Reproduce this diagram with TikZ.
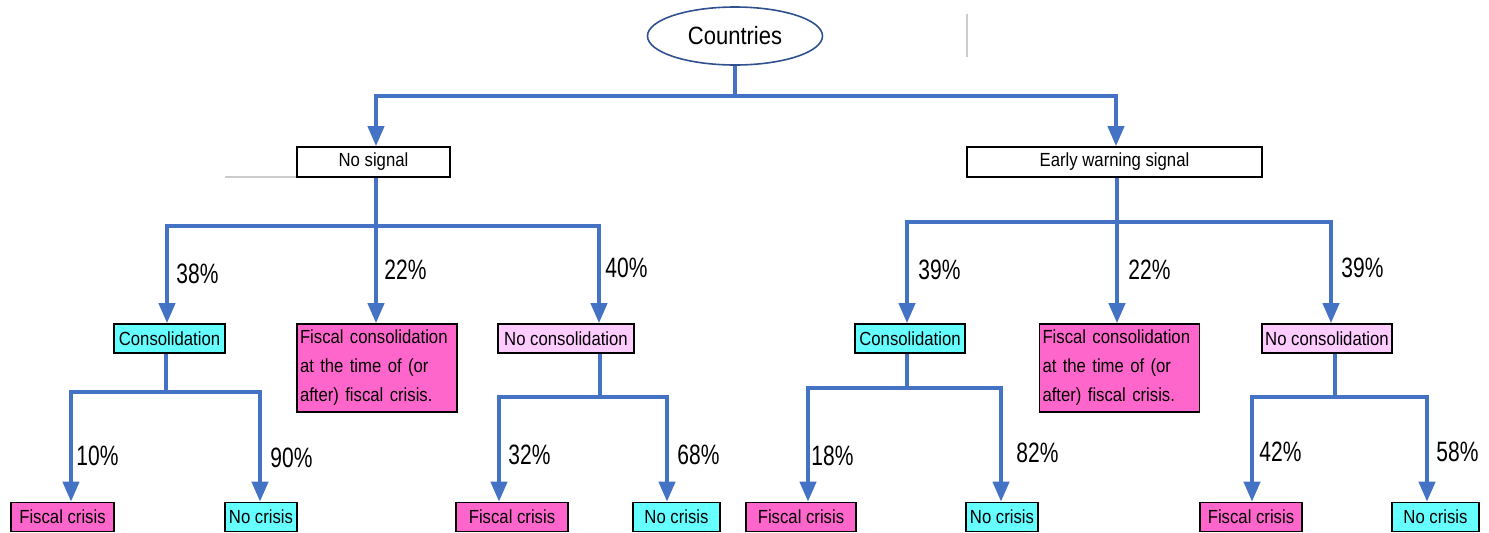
\documentclass[tikz,border=0pt]{standalone}
\usepackage{fontspec}
\setmainfont{Liberation Sans}[FakeStretch=0.88]
\newfontfamily\pctfont{Liberation Sans}[FakeStretch=0.75]
\usetikzlibrary{arrows.meta, shapes.geometric}

\definecolor{lineblue}{HTML}{4472C4}
\definecolor{ringblue}{HTML}{2F528F}
\definecolor{crisiscyan}{HTML}{66FFFF}
\definecolor{crisispink}{HTML}{FF66CC}
\definecolor{nocons}{HTML}{FFCCFF}

\begin{document}
\begin{tikzpicture}[
        x = 0.5pt, y = -0.5pt,
        > = {Triangle[length=10pt, width=8pt]},
        box/.style = {%
            draw, line width = 0.8pt, inner sep = 0pt,
            minimum height = 14.5pt,
            font = \fontsize{9.5}{11}\selectfont
        },
        longbox/.style = {%
            box, fill = crisispink, align = left,
            text width = 77pt, inner xsep = 1.5pt,
            minimum height = 44pt,
            font = \fontsize{9.5}{14.5}\selectfont
        },
        link/.style = {draw = lineblue, line width = 2pt},
        bar/.style = {link, line cap = rect},
        pct/.style = {anchor = west, inner sep = 0pt,
            font = \pctfont\fontsize{14}{16}\selectfont}
    ]

        \useasboundingbox (0, 0) rectangle (1489, 532);

        % Faint stray lines.
        \draw[black!20, line width = 1pt] (967, 14) to (967, 57);
        \draw[black!20, line width = 1pt] (225, 177) to (297, 177);

        % Root and first split.
        \node[ellipse, draw = ringblue, line width = 0.8pt,
              minimum width = 87.5pt, minimum height = 29pt,
              font = \fontsize{12.5}{14}\selectfont] (countries) at (735, 36) {Countries};
        \node[box, minimum width = 76.5pt, minimum height = 15pt] (nosig) at (373.5, 162) {No signal};
        \node[box, minimum width = 147.5pt, minimum height = 15pt] (ews) at (1114.5, 162) {Early warning signal};

        % Second level.
        \node[box, fill = crisiscyan, minimum width = 55.5pt] (consL) at (169.5, 338.5) {Consolidation};
        \node[longbox] (fiscL) at (377, 368) {Fiscal consolidation\\at the time of (or\\after) fiscal crisis.};
        \node[box, fill = nocons, minimum width = 68pt] (nocL) at (566, 338.5) {No consolidation};
        \node[box, fill = crisiscyan, minimum width = 55pt] (consR) at (910, 338.5) {Consolidation};
        \node[longbox] (fiscR) at (1119.5, 368) {Fiscal consolidation\\at the time of (or\\after) fiscal crisis.};
        \node[box, fill = nocons, minimum width = 65pt] (nocR) at (1327, 338.5) {No consolidation};

        % Outcomes.
        \begin{scope}[every node/.append style = {minimum height = 15pt}]
            \node[box, fill = crisispink, minimum width = 51.5pt] (fcLL) at (62.5, 517) {Fiscal crisis};
            \node[box, fill = crisiscyan, minimum width = 36pt] (ncLL) at (261, 517) {No crisis};
            \node[box, fill = crisispink, minimum width = 56pt] (fcLR) at (512, 517) {Fiscal crisis};
            \node[box, fill = crisiscyan, minimum width = 43.5pt] (ncLR) at (676.5, 517) {No crisis};
            \node[box, fill = crisispink, minimum width = 55pt] (fcRL) at (801, 517) {Fiscal crisis};
            \node[box, fill = crisiscyan, minimum width = 36pt] (ncRL) at (1002, 517) {No crisis};
            \node[box, fill = crisispink, minimum width = 51pt] (fcRR) at (1251, 517) {Fiscal crisis};
            \node[box, fill = crisiscyan, minimum width = 43.5pt] (ncRR) at (1435.5, 517) {No crisis};
        \end{scope}

        % Branch points.
        \coordinate (t0) at (735, 96);
        \coordinate (tL) at (376, 96);
        \coordinate (tR) at (1116, 96);
        \coordinate (bL1) at (167, 226);
        \coordinate (bL2) at (376, 226);
        \coordinate (bL3) at (599, 226);
        \coordinate (bR1) at (907, 222);
        \coordinate (bR2) at (1117, 222);
        \coordinate (bR3) at (1331, 222);
        \coordinate (cL0) at (166, 392);
        \coordinate (cLa) at (71, 392);
        \coordinate (cLb) at (260, 392);
        \coordinate (nL0) at (600, 397);
        \coordinate (nLa) at (499, 397);
        \coordinate (nLb) at (667, 397);
        \coordinate (cR0) at (907, 388);
        \coordinate (cRa) at (808, 388);
        \coordinate (cRb) at (1001, 388);
        \coordinate (nR0) at (1335, 397);
        \coordinate (nRa) at (1252, 397);
        \coordinate (nRb) at (1427, 397);

        % Connectors.
        \draw[link] (countries.south) to (t0);
        \draw[bar] (tL) to (tR);
        \draw[link, ->] (tL) to (tL |- nosig.north);
        \draw[link, ->] (tR) to (tR |- ews.north);

        \draw[bar] (bL1) to (bL3);
        \draw[link, ->] (bL2 |- nosig.south) to (bL2 |- fiscL.north);
        \draw[link, ->] (bL1) to (bL1 |- consL.north);
        \draw[link, ->] (bL3) to (bL3 |- nocL.north);

        \draw[bar] (bR1) to (bR3);
        \draw[link, ->] (bR2 |- ews.south) to (bR2 |- fiscR.north);
        \draw[link, ->] (bR1) to (bR1 |- consR.north);
        \draw[link, ->] (bR3) to (bR3 |- nocR.north);

        \foreach \p/\a/\b/\l/\r in {consL/cL0/cLa/fcLL/ncLL, nocL/nL0/nLa/fcLR/ncLR,
                                    consR/cR0/cRa/fcRL/ncRL, nocR/nR0/nRa/fcRR/ncRR}{%
            \draw[link] (\a |- \p.south) to (\a);
        }
        \foreach \a/\b/\l/\r in {cLa/cLb/fcLL/ncLL, nLa/nLb/fcLR/ncLR,
                                 cRa/cRb/fcRL/ncRL, nRa/nRb/fcRR/ncRR}{%
            \draw[bar] (\a) to (\b);
            \draw[link, ->] (\a) to (\a |- \l.north);
            \draw[link, ->] (\b) to (\b |- \r.north);
        }

        % Shares.
        \foreach \x/\y/\t [count = \i] in {176/274/38, 384/270/22, 605/268/40,
                                           76/456/10, 270/458/90, 508/455/32, 677/455/68,
                                           918/270/39, 1128/270/22, 1341/268/39,
                                           811/456/18, 1016/453/82, 1259/452/42, 1436/452/58}{%
            \node[pct] (share\i) at (\x, \y) {\t\%};
        }
\end{tikzpicture}
\end{document}
